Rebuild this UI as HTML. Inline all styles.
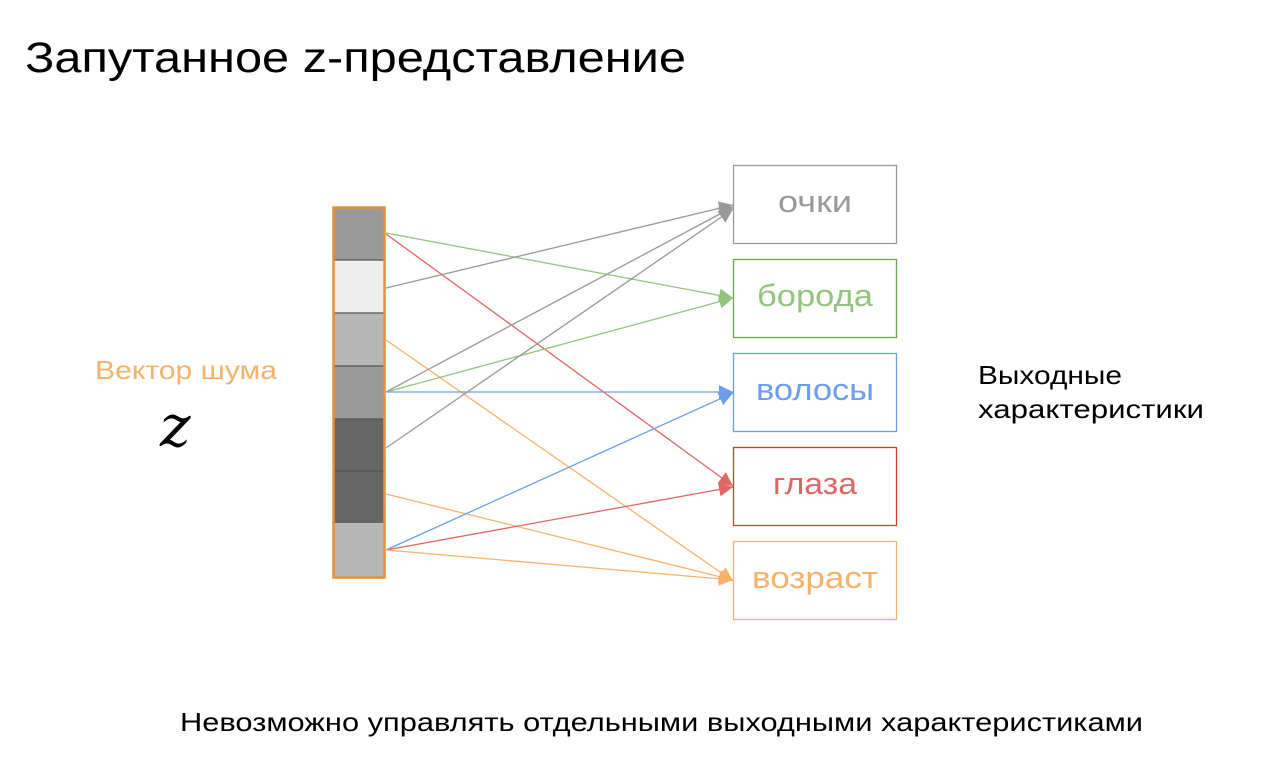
<!DOCTYPE html>
<html><head><meta charset="utf-8"><style>
body{margin:0;background:#fff;width:1272px;height:758px;overflow:hidden;font-family:"Liberation Sans","DejaVu Sans",sans-serif}
</style></head><body>
<svg width="1272" height="758" xmlns="http://www.w3.org/2000/svg" style="position:absolute;left:0;top:0">
<defs>
<marker id="ag" markerWidth="14" markerHeight="14" refX="10" refY="5" orient="auto" markerUnits="userSpaceOnUse" viewBox="0 0 10 10"><path d="M0,0L10,5L0,10z" fill="#999"/></marker>
<marker id="agr" markerWidth="14" markerHeight="14" refX="10" refY="5" orient="auto" markerUnits="userSpaceOnUse" viewBox="0 0 10 10"><path d="M0,0L10,5L0,10z" fill="#93c47d"/></marker>
<marker id="ab" markerWidth="14" markerHeight="14" refX="10" refY="5" orient="auto" markerUnits="userSpaceOnUse" viewBox="0 0 10 10"><path d="M0,0L10,5L0,10z" fill="#6d9eeb"/></marker>
<marker id="ar" markerWidth="14" markerHeight="14" refX="10" refY="5" orient="auto" markerUnits="userSpaceOnUse" viewBox="0 0 10 10"><path d="M0,0L10,5L0,10z" fill="#e06666"/></marker>
<marker id="ao" markerWidth="14" markerHeight="14" refX="10" refY="5" orient="auto" markerUnits="userSpaceOnUse" viewBox="0 0 10 10"><path d="M0,0L10,5L0,10z" fill="#f6b26b"/></marker>
</defs>
<text x="25" y="72" font-size="43" fill="#000" textLength="661" lengthAdjust="spacingAndGlyphs">Запутанное z-представление</text>
<text x="95" y="379" font-size="26" fill="#f6b26b" textLength="182" lengthAdjust="spacingAndGlyphs">Вектор шума</text>
<text x="160" y="446" font-size="58" font-style="italic" font-family="DejaVu Serif,serif" fill="#000">z</text>
<text x="978" y="384" font-size="26" fill="#000" textLength="144" lengthAdjust="spacingAndGlyphs">Выходные</text>
<text x="978" y="418" font-size="26" fill="#000" textLength="226" lengthAdjust="spacingAndGlyphs">характеристики</text>
<text x="180" y="731" font-size="26" fill="#000" textLength="963" lengthAdjust="spacingAndGlyphs">Невозможно управлять отдельными выходными характеристиками</text>
<rect x="334" y="208" width="50" height="52" fill="#999"/>
<rect x="334" y="260" width="50" height="53" fill="#eee"/>
<rect x="334" y="313" width="50" height="53" fill="#b7b7b7"/>
<rect x="334" y="366" width="50" height="53" fill="#999"/>
<rect x="334" y="419" width="50" height="52" fill="#666"/>
<rect x="334" y="471" width="50" height="52" fill="#666"/>
<rect x="334" y="523" width="50" height="54" fill="#b7b7b7"/>
<g stroke="#555" stroke-width="1.2"><line x1="334" y1="260" x2="384" y2="260"/><line x1="334" y1="313" x2="384" y2="313"/><line x1="334" y1="366" x2="384" y2="366"/><line x1="334" y1="419" x2="384" y2="419"/><line x1="334" y1="471" x2="384" y2="471"/></g>
<rect x="333.5" y="207.5" width="51" height="370" fill="none" stroke="#e69138" stroke-width="2.5"/>
<g stroke-width="1.3" fill="none">
<line x1="386" y1="233" x2="733" y2="298" stroke="#93c47d" marker-end="url(#agr)"/>
<line x1="386" y1="234" x2="733" y2="486" stroke="#e06666" marker-end="url(#ar)"/>
<line x1="386" y1="288" x2="733" y2="205" stroke="#999" marker-end="url(#ag)"/>
<line x1="386" y1="340" x2="733" y2="581" stroke="#f6b26b" marker-end="url(#ao)"/>
<line x1="386" y1="392" x2="733" y2="207" stroke="#999" marker-end="url(#ag)"/>
<line x1="386" y1="392" x2="733" y2="298" stroke="#93c47d" marker-end="url(#agr)"/>
<line x1="386" y1="392" x2="733" y2="392" stroke="#6d9eeb" marker-end="url(#ab)"/>
<line x1="386" y1="448" x2="733" y2="209" stroke="#999" marker-end="url(#ag)"/>
<line x1="386" y1="494" x2="733" y2="580" stroke="#f6b26b" marker-end="url(#ao)"/>
<line x1="386" y1="550" x2="733" y2="393" stroke="#6d9eeb" marker-end="url(#ab)"/>
<line x1="386" y1="550" x2="733" y2="487" stroke="#e06666" marker-end="url(#ar)"/>
<line x1="386" y1="550" x2="733" y2="580" stroke="#f6b26b" marker-end="url(#ao)"/>
</g>
<g stroke-width="1.3" fill="none" font-size="31" text-anchor="middle">
<rect x="733.5" y="165.5" width="163" height="78" stroke="#999"/>
<text x="815" y="212" fill="#999" stroke="none" textLength="74" lengthAdjust="spacingAndGlyphs">очки</text>
<rect x="733.5" y="259.5" width="163" height="78" stroke="#6aa84f"/>
<text x="815" y="306" fill="#93c47d" stroke="none" textLength="116" lengthAdjust="spacingAndGlyphs">борода</text>
<rect x="733.5" y="353.5" width="163" height="78" stroke="#6d9eeb"/>
<text x="815" y="400" fill="#6d9eeb" stroke="none" textLength="118" lengthAdjust="spacingAndGlyphs">волосы</text>
<rect x="733.5" y="447.5" width="163" height="78" stroke="#cc4125"/>
<text x="815" y="494" fill="#e06666" stroke="none" textLength="84" lengthAdjust="spacingAndGlyphs">глаза</text>
<rect x="733.5" y="541.5" width="163" height="78" stroke="#f6b26b"/>
<text x="815" y="588" fill="#f6b26b" stroke="none" textLength="126" lengthAdjust="spacingAndGlyphs">возраст</text>
</g>
</svg>
</body></html>
